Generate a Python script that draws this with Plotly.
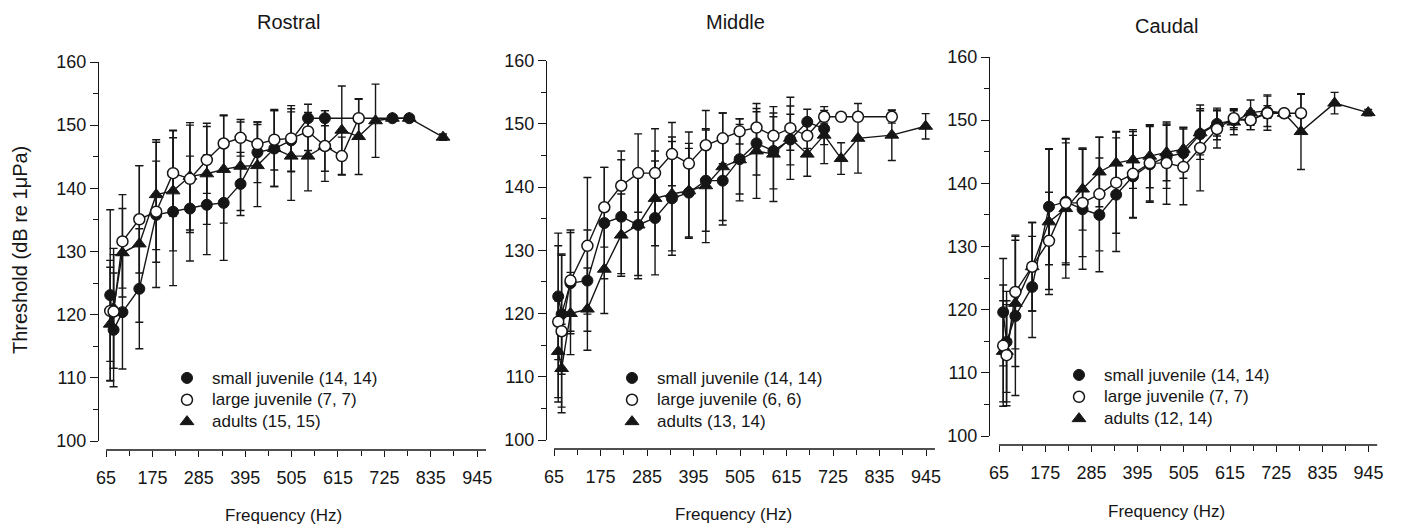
import plotly.graph_objects as go

# ---------------- data ----------------
FREQ = [75, 83, 104, 144, 184, 224, 264, 304, 344, 384, 424, 464,
        504, 544, 584, 624, 664, 704, 744, 784, 824, 864, 904, 944]
X_TICKS = [65, 175, 285, 395, 505, 615, 725, 835, 945]
Y_TICKS = [100, 110, 120, 130, 140, 150, 160]
N = None

# Rostral
R_SMALL = [123.1, 117.6, 120.4, 124.1, 135.8, 136.3, 136.8, 137.4, 137.7, 140.7, 145.7, 146.3,
           147.6, 151.1, 151.1, N, N, N, 151.1, 151.1, N, N, N, N]
R_SMALL_SD = [13.5, 9, 9, 9.5, 11.5, 11.7, 8.3, 7.9, 9.1, 5, 4.8, 6,
              5, 2.2, 1.2, N, N, N, 0.5, 0.5, N, N, N, N]
R_LARGE = [120.6, 120.5, 131.6, 135.1, 136.3, 142.4, 141.5, 144.5, 147.1, 148.0, 147.0, 147.7,
           147.9, 149.0, 146.7, 145.1, 151.1, N, N, N, N, N, N, N]
R_LARGE_SD = [8, 9, 7.4, 8.5, 8, 6.8, 8.5, 5.3, 4.5, 2.9, 3.5, 4.8,
              5.2, 3, 4, 3, 3, N, N, N, N, N, N, N]
R_ADULT = [118.5, 121.0, 129.8, 131.2, 139.0, 139.6, 141.9, 142.3, 143.0, 143.5, 143.6, 146.3,
           145.1, 145.1, 146.7, 149.2, 148.2, 150.7, 151.1, 151.1, N, 148.1, N, N]
R_ADULT_SD = [9, 9.5, 7, 12.4, 8.7, 9.5, 8.5, 8, 8.5, 7, 6.5, 6,
              7, 5.5, 5.6, 7, 6, 5.8, 0.5, 0.5, N, 0.5, N, N]
R_LABELS = ["small juvenile (14, 14)", "large juvenile (7, 7)", "adults (15, 15)"]

# Middle
M_SMALL = [122.7, 119.9, 124.8, 125.2, 134.3, 135.3, 134.0, 135.1, 138.2, 139.1, 141.0, 141.0,
           144.4, 146.9, 145.7, 147.5, 150.3, 149.2, N, N, N, N, N, N]
M_SMALL_SD = [10, 9.5, 8, 8, 8.8, 9, 8, 9, 9, 7, 8, 7,
              5.5, 5, 6, 4, 2, 2.5, N, N, N, N, N, N]
M_LARGE = [118.7, 117.2, 125.2, 130.7, 136.8, 140.2, 142.2, 142.2, 145.2, 143.7, 146.6, 147.7,
           148.8, 149.4, 148.1, 149.3, 148.1, 151.1, 151.1, 151.1, N, 151.1, N, N]
M_LARGE_SD = [12, 12, 8, 10.8, 6.3, 5.5, 6.2, 7, 5, 5, 5.5, 4,
              2, 3, 3, 3.5, 2, 1, 0.5, 0.5, N, 1, N, N]
M_ADULT = [114.0, 111.3, 120.0, 120.7, 127.0, 132.4, 134.0, 138.2, 138.9, 139.4, 140.2, 143.2,
           144.3, 145.7, 145.2, 147.7, 145.2, 148.2, 144.5, 147.7, N, 148.2, N, 149.6]
M_ADULT_SD = [8, 7, 6.5, 6.5, 7, 6.5, 8.5, 7.5, 9, 7.5, 9, 8.5,
              6.5, 7.5, 7.5, 6.5, 3.5, 4.5, 2.5, 5.5, N, 4, N, 2]
M_LABELS = ["small juvenile (14, 14)", "large juvenile (6, 6)", "adults (13, 14)"]

# Caudal
C_SMALL = [119.6, 114.9, 119.0, 123.6, 136.3, 137.1, 135.9, 135.0, 138.2, 141.1, 143.0, 144.2,
           144.8, 147.8, 149.4, 150.0, 150.0, 151.3, 151.1, N, N, N, N, N]
C_SMALL_SD = [8.5, 8, 12.6, 8, 9.2, 10, 9.5, 9, 9, 6.5, 6, 5,
              4, 4, 2.5, 1.5, 1.5, 1, 0.5, N, N, N, N, N]
C_LARGE = [114.3, 112.8, 122.8, 126.8, 130.9, 136.9, 136.9, 138.3, 140.1, 141.5, 143.2, 143.2,
           142.6, 145.6, 148.6, 150.3, 150.0, 151.1, 151.1, 151.1, N, N, N, N]
C_LARGE_SD = [9.6, 8, 9, 7, 7.7, 9.5, 8.5, 9, 8, 7, 6, 6.5,
              6, 6.8, 3, 1.5, 1.5, 2.7, 0.5, 3, N, N, N, N]
C_ADULT = [113.4, 113.4, 121.0, 126.8, 133.9, 136.0, 139.1, 141.8, 143.2, 143.7, 144.3, 144.9,
           145.4, 148.0, 149.5, 149.7, 151.2, 151.5, 151.1, 148.2, N, 152.7, N, 151.2]
C_ADULT_SD = [8, 8, 10, 7, 11.5, 11, 6.5, 5.5, 5, 4.5, 5, 4.5,
              3.5, 3.5, 2, 2, 2, 2.5, 0.5, 6, N, 1.7, N, 0.5]
C_LABELS = ["small juvenile (14, 14)", "large juvenile (7, 7)", "adults (12, 14)"]

TITLES = ["Rostral", "Middle", "Caudal"]

# ---------------- layout / style ----------------
W, H = 1401, 529
INK = "#161616"
FONT = "Liberation Sans, Arial, sans-serif"


def px(x):
    return x / W


def py(y):
    return 1 - y / H


GEOM = [
    dict(yax=99, f65=106, k=0.4218, y100=441, y160=62, xline=450, title=(288, 22), xt=(283, 515),
         leg=(162, 362)),
    dict(yax=547, f65=554, k=0.4228, y100=440, y160=60.5, xline=449, title=(735, 22), xt=(733, 514),
         leg=(607, 362)),
    dict(yax=990, f65=999, k=0.4200, y100=436, y160=57, xline=445, title=(1166, 26), xt=(1166, 511),
         leg=(1054, 359)),
]
F_END = 966

PANELS = [
    (R_SMALL, R_SMALL_SD, R_LARGE, R_LARGE_SD, R_ADULT, R_ADULT_SD, R_LABELS),
    (M_SMALL, M_SMALL_SD, M_LARGE, M_LARGE_SD, M_ADULT, M_ADULT_SD, M_LABELS),
    (C_SMALL, C_SMALL_SD, C_LARGE, C_LARGE_SD, C_ADULT, C_ADULT_SD, C_LABELS),
]

STYLES = {
    "small": dict(symbol="circle", size=11, color=INK, line=dict(color=INK, width=1)),
    "large": dict(symbol="circle", size=11, color="white", line=dict(color=INK, width=1.5)),
    "adult": dict(symbol="triangle-up", size=12, color=INK, line=dict(color=INK, width=1)),
}

fig = go.Figure()
annotations = []
shapes = []

x_minor = [(a + b) / 2 for a, b in zip(X_TICKS[:-1], X_TICKS[1:])]
y_minor = [(a + b) / 2 for a, b in zip(Y_TICKS[:-1], Y_TICKS[1:])]

for i, (g, data, title) in enumerate(zip(GEOM, PANELS, TITLES)):
    n = "" if i == 0 else str(i + 1)
    xa, ya = "x" + n, "y" + n
    small, small_sd, large, large_sd, adult, adult_sd, labels = data
    f_left = 65 - (g["f65"] - g["yax"]) / g["k"]
    x_right_px = g["f65"] + (F_END - 65) * g["k"]
    leg_name = "legend" if i == 0 else "legend" + str(i + 1)

    series = [
        ("adult", adult, adult_sd, labels[2]),
        ("small", small, small_sd, labels[0]),
        ("large", large, large_sd, labels[1]),
    ]
    for key, vals, sds, lab in series:
        fig.add_trace(go.Scatter(
            x=FREQ, y=vals, xaxis=xa, yaxis=ya, mode="lines+markers",
            connectgaps=True, showlegend=False, cliponaxis=False, hoverinfo="skip",
            line=dict(color=INK, width=1.4),
            marker=STYLES[key],
            error_y=dict(type="data", array=sds, visible=True, color=INK,
                         thickness=1.4, width=4),
        ))
    for key, lab in (("small", labels[0]), ("large", labels[1]), ("adult", labels[2])):
        fig.add_trace(go.Scatter(
            x=[None], y=[None], xaxis=xa, yaxis=ya, mode="markers",
            name='<span style="font-size:17px">' + lab + "</span>",
            legend=leg_name, showlegend=True, marker=STYLES[key],
        ))

    fig.layout["xaxis" + n] = dict(
        domain=[px(g["yax"]), px(x_right_px)], range=[f_left, F_END],
        anchor="free", position=py(g["xline"]), automargin=False,
        showline=False, showgrid=False, zeroline=False,
        tickmode="array", tickvals=X_TICKS, ticktext=[str(t) for t in X_TICKS],
        ticks="outside", ticklen=6, tickwidth=1.3, tickcolor=INK,
        minor=dict(tickvals=x_minor, ticks="outside", ticklen=5, tickwidth=1.3, tickcolor=INK),
        tickfont=dict(family=FONT, size=18, color=INK), ticklabelstandoff=5,
    )
    fig.layout["yaxis" + n] = dict(
        domain=[py(g["y100"]), py(g["y160"])], range=[100, 160],
        anchor=xa, showline=True, linecolor=INK, linewidth=1.4, automargin=False,
        showgrid=False, zeroline=False,
        tickmode="array", tickvals=Y_TICKS, ticktext=[str(t) for t in Y_TICKS],
        ticks="outside", ticklen=8, tickwidth=1.3, tickcolor=INK,
        minor=dict(tickvals=y_minor, ticks="outside", ticklen=5, tickwidth=1.3, tickcolor=INK),
        tickfont=dict(family=FONT, size=18, color=INK),
    )
    shapes.append(dict(type="line", xref=xa, yref="paper", x0=65, x1=F_END,
                       y0=py(g["xline"]), y1=py(g["xline"]),
                       line=dict(color=INK, width=1.4)))
    annotations.append(dict(text=title, x=px(g["title"][0]), y=py(g["title"][1]),
                            xref="paper", yref="paper", showarrow=False,
                            xanchor="center", yanchor="middle",
                            font=dict(family=FONT, size=20, color=INK)))
    annotations.append(dict(text="Frequency (Hz)", x=px(g["xt"][0]), y=py(g["xt"][1]),
                            xref="paper", yref="paper", showarrow=False,
                            xanchor="center", yanchor="middle",
                            font=dict(family=FONT, size=17, color=INK)))
    fig.layout[leg_name] = dict(
        x=px(g["leg"][0]), y=py(g["leg"][1]), xanchor="left", yanchor="top",
        bgcolor="rgba(0,0,0,0)", borderwidth=0, itemwidth=40,
        font=dict(family=FONT, size=14.5, color=INK), tracegroupgap=0,
    )

annotations.append(dict(text="Threshold (dB re 1\u03bcPa)", x=px(20), y=py(250),
                        xref="paper", yref="paper", showarrow=False, textangle=-90,
                        xanchor="center", yanchor="middle",
                        font=dict(family=FONT, size=20, color=INK)))

fig.update_layout(
    width=W, height=H, margin=dict(l=0, r=0, t=0, b=0, pad=0, autoexpand=False),
    paper_bgcolor="white", plot_bgcolor="white", hovermode=False,
    annotations=annotations, shapes=shapes, showlegend=True,
)

fig.write_html("out.html", config={"displayModeBar": False},
               post_script="document.body.style.margin='0px';document.body.style.overflow='hidden';")
